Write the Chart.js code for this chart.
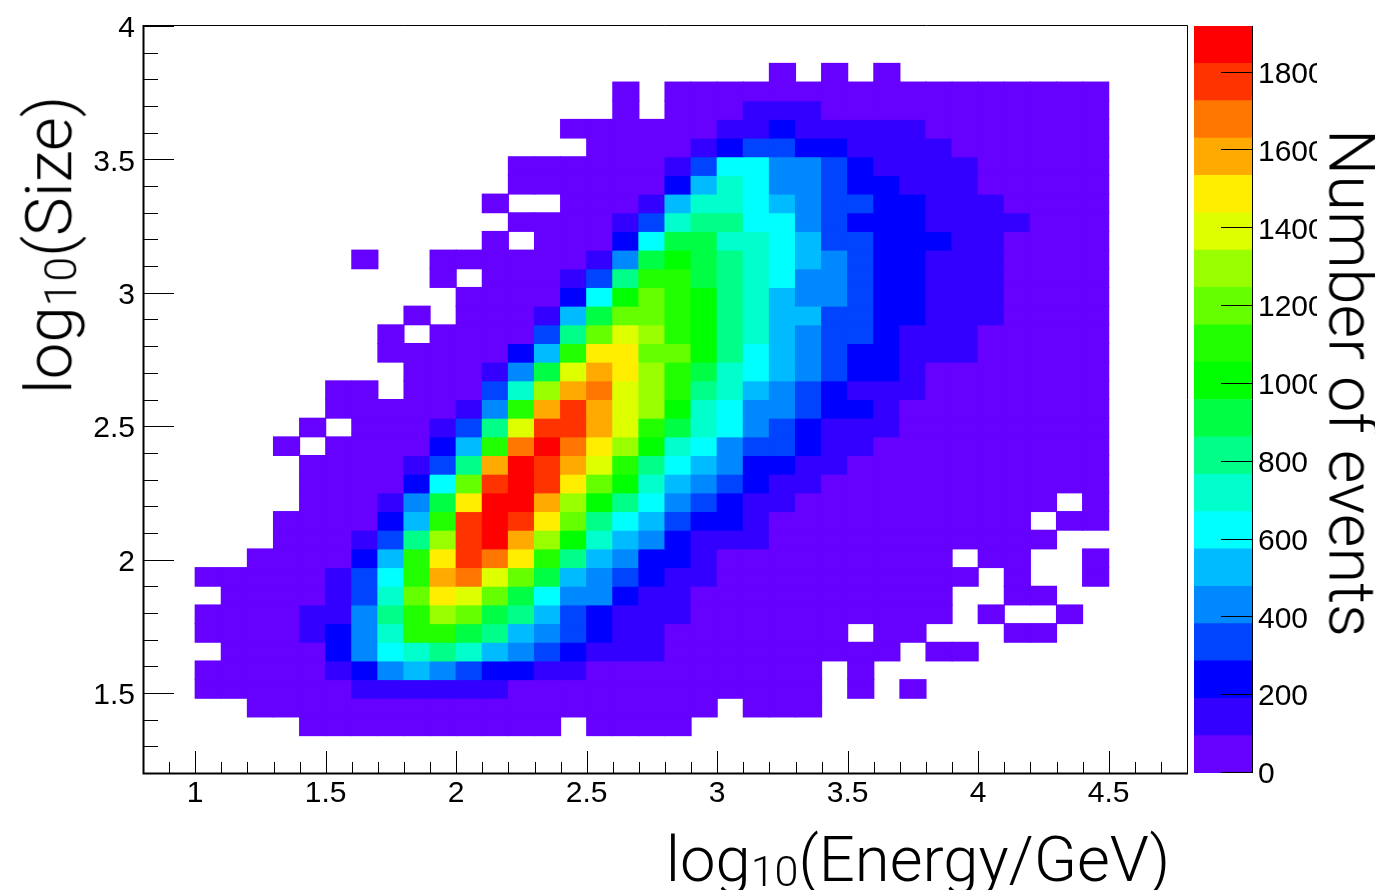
<!DOCTYPE html>
<html><head><meta charset="utf-8">
<style>
html,body{margin:0;padding:0;background:#fff;width:1375px;height:890px;overflow:hidden}
canvas{position:absolute;top:0}
.t{position:absolute;font-family:Roboto,"Liberation Sans",sans-serif;font-weight:300;color:#000;white-space:nowrap;transform-origin:center;line-height:1}
.t sub{font-size:68%;line-height:0;vertical-align:-0.12em}
</style></head><body>
<canvas id="main" width="1375" height="890" style="left:0px"></canvas>
<canvas id="bar" width="127" height="890" style="left:1190px"></canvas>
<div class="t" id="xt" style="left:918px;top:860px;font-size:63.4px;transform:translate(-50%,-50%)">log<sub>10</sub>(Energy/GeV)</div>
<div class="t" id="yt" style="left:49px;top:245px;font-size:65.5px;transform:translate(-50%,-50%) rotate(-90deg)">log<sub>10</sub>(Size)</div>
<div class="t" id="zt" style="left:1351px;top:383px;font-size:65px;transform:translate(-50%,-50%) rotate(90deg)">Number of events</div>
<script src="https://cdn.jsdelivr.net/npm/chart.js@4"></script>
<script>
const n = null;
const binWidth = 96;
const colorLevels = ['#6600ff','#3300ff','#0000ff','#0044ff','#0088ff','#00bbff','#00ffff','#00ffcc','#00ff88','#00ff44','#00ff00','#22ff00','#66ff00','#99ff00','#ddff00','#ffee00','#ffaa00','#ff7700','#ff3300','#ff0000'];
const energyBins = [1,1.1,1.2,1.3,1.4,1.5,1.6,1.7,1.8,1.9,2,2.1,2.2,2.3,2.4,2.5,2.6,2.7,2.8,2.9,3,3.1,3.2,3.3,3.4,3.5,3.6,3.7,3.8,3.9,4,4.1,4.2,4.3,4.4];
const sizeBinBase = 1.2, sizeBinWidth = 0.07;
const row37=[n,n,n,n,n,n,n,n,n,n,n,n,n,n,n,n,n,n,n,n,n,n,48,n,48,n,48];
const row36=[n,n,n,n,n,n,n,n,n,n,n,n,n,n,n,n,48,n,48,48,48,48,48,48,48,48,48,48,48,48,48,48,48,48,48];
const row35=[n,n,n,n,n,n,n,n,n,n,n,n,n,n,n,n,48,n,48,48,48,144,144,144,48,48,48,48,48,48,48,48,48,48,48];
const row34=[n,n,n,n,n,n,n,n,n,n,n,n,n,n,48,48,48,48,48,48,144,144,240,144,144,144,144,144,48,48,48,48,48,48,48];
const row33=[n,n,n,n,n,n,n,n,n,n,n,n,n,n,n,48,48,48,48,144,240,336,336,240,240,144,144,144,144,48,48,48,48,48,48];
const row32=[n,n,n,n,n,n,n,n,n,n,n,n,48,48,48,48,48,48,144,336,624,624,432,432,336,240,144,144,144,144,48,48,48,48,48];
const row31=[n,n,n,n,n,n,n,n,n,n,n,n,48,48,48,48,48,48,240,528,720,624,432,432,336,240,240,144,144,144,48,48,48,48,48];
const row30=[n,n,n,n,n,n,n,n,n,n,n,48,n,n,48,48,48,144,528,720,720,624,528,432,336,336,240,240,144,144,144,48,48,48,48];
const row29=[n,n,n,n,n,n,n,n,n,n,n,n,48,48,48,48,144,336,720,816,816,624,624,432,336,240,240,240,144,144,144,144,48,48,48];
const row28=[n,n,n,n,n,n,n,n,n,n,n,48,n,48,48,48,240,624,912,912,720,720,624,528,336,336,240,240,240,144,144,48,48,48,48];
const row27=[n,n,n,n,n,n,48,n,n,48,48,48,48,48,48,144,432,912,1008,912,816,720,624,528,432,336,240,240,144,144,144,48,48,48,48];
const row26=[n,n,n,n,n,n,n,n,n,48,n,48,48,48,144,336,816,1104,1104,912,816,720,624,432,432,336,240,240,144,144,144,48,48,48,48];
const row25=[n,n,n,n,n,n,n,n,n,n,48,48,48,48,240,624,1008,1200,1104,1008,816,720,528,432,432,336,240,240,144,144,144,48,48,48,48];
const row24=[n,n,n,n,n,n,n,n,48,n,48,48,48,144,528,912,1200,1200,1104,1008,816,720,528,528,336,336,240,240,144,144,144,48,48,48,48];
const row23=[n,n,n,n,n,n,n,48,n,48,48,48,48,336,816,1200,1392,1296,1104,1008,816,720,528,432,336,336,240,144,144,144,48,48,48,48,48];
const row22=[n,n,n,n,n,n,n,48,48,48,48,48,240,528,1104,1488,1488,1200,1200,1008,816,624,528,432,336,240,240,144,144,144,48,48,48,48,48];
const row21=[n,n,n,n,n,n,n,n,48,48,48,144,432,912,1392,1584,1488,1296,1104,912,720,624,528,432,336,240,240,144,48,48,48,48,48,48,48];
const row20=[n,n,n,n,n,48,48,n,48,48,48,336,720,1296,1584,1680,1392,1296,1104,816,720,528,432,336,240,144,144,144,48,48,48,48,48,48,48];
const row19=[n,n,n,n,n,48,48,48,48,48,144,432,1104,1584,1776,1584,1392,1296,1008,720,624,432,432,336,240,240,144,48,48,48,48,48,48,48,48];
const row18=[n,n,n,n,48,n,48,48,48,144,336,816,1392,1776,1776,1584,1392,1104,912,720,624,432,336,240,144,144,144,48,48,48,48,48,48,48,48];
const row17=[n,n,n,48,n,48,48,48,48,240,528,1104,1680,1872,1680,1488,1296,1008,720,624,432,336,336,240,144,144,48,48,48,48,48,48,48,48,48];
const row16=[n,n,n,n,48,48,48,48,144,336,816,1584,1872,1776,1584,1392,1104,816,624,528,432,240,240,144,144,48,48,48,48,48,48,48,48,48,48];
const row15=[n,n,n,n,48,48,48,48,240,624,1200,1776,1872,1776,1488,1200,1008,720,528,432,336,240,144,144,48,48,48,48,48,48,48,48,48,48,48];
const row14=[n,n,n,n,48,48,48,144,432,912,1488,1872,1872,1584,1296,1008,816,624,432,336,240,144,144,48,48,48,48,48,48,48,48,48,48,n,48];
const row13=[n,n,n,48,48,48,48,240,528,1104,1776,1872,1776,1488,1200,816,624,528,336,240,240,144,48,48,48,48,48,48,48,48,48,48,n,48,48];
const row12=[n,n,n,48,48,48,144,336,816,1296,1776,1872,1584,1296,1008,720,528,432,240,144,144,144,48,48,48,48,48,48,48,48,48,48,48];
const row11=[n,n,48,48,48,48,240,528,1104,1488,1776,1680,1488,1104,816,528,432,240,240,144,48,48,48,48,48,48,48,48,48,n,48,48,n,n,48];
const row10=[48,48,48,48,48,144,336,624,1104,1584,1680,1392,1200,912,528,432,336,240,144,144,48,48,48,48,48,48,48,48,48,48,n,48,n,n,48];
const row09=[n,48,48,48,48,144,336,720,1200,1488,1392,1200,912,624,432,432,240,144,144,48,48,48,48,48,48,48,48,48,48,n,n,48,48];
const row08=[48,48,48,48,144,144,432,816,1104,1296,1200,912,816,528,336,240,144,144,144,48,48,48,48,48,48,48,48,48,48,n,48,n,n,48];
const row07=[48,48,48,48,144,240,432,720,1104,1104,912,816,528,432,336,240,144,144,48,48,48,48,48,48,48,n,48,48,n,n,n,48,48];
const row06=[n,48,48,48,48,240,432,624,720,816,720,528,432,336,240,144,144,144,48,48,48,48,48,48,48,48,48,n,48,48];
const row05=[48,48,48,48,48,144,240,432,528,432,336,240,240,144,144,48,48,48,48,48,48,48,48,48,n,48];
const row04=[48,48,48,48,48,48,144,144,144,144,144,144,48,48,48,48,48,48,48,48,48,48,48,48,n,48,n,48];
const row03=[n,n,48,48,48,48,48,48,48,48,48,48,48,48,48,48,48,48,48,48,n,48,48,48];
const row02=[n,n,n,n,48,48,48,48,48,48,48,48,48,48,n,48,48,48,48];
const sizeRows=[[2,row02],[3,row03],[4,row04],[5,row05],[6,row06],[7,row07],[8,row08],[9,row09],[10,row10],[11,row11],[12,row12],[13,row13],[14,row14],[15,row15],[16,row16],[17,row17],[18,row18],[19,row19],[20,row20],[21,row21],[22,row22],[23,row23],[24,row24],[25,row25],[26,row26],[27,row27],[28,row28],[29,row29],[30,row30],[31,row31],[32,row32],[33,row33],[34,row34],[35,row35],[36,row36],[37,row37]];

const cells=[];
sizeRows.forEach(([j,row])=>row.forEach((v,i)=>{
  if(v==null)return;
  cells.push({x:energyBins[i]+0.05,y:[sizeBinBase+sizeBinWidth*j,sizeBinBase+sizeBinWidth*(j+1)],v});
}));
const colorOf=v=>colorLevels[Math.min(colorLevels.length-1,Math.floor(v/binWidth))];
const tenth=v=>Math.round(v*10)/10;
const isMajor=v=>Math.round(v*10)%5===0;
const tickFont={family:'"Liberation Sans",Arial,sans-serif',size:30};
const nudgeLabels=(scale,dy)=>scale.getLabelItems().forEach(it=>{it.options.translation[1]+=dy;});

const frame={id:'frame',beforeDraw(c){nudgeLabels(c.scales.y,3);},afterDatasetsDraw(c){
  const g=c.ctx,a=c.chartArea,sx=c.scales.x,sy=c.scales.y;
  g.save();g.strokeStyle='#000';
  g.lineWidth=1;
  g.beginPath();g.moveTo(a.left,a.top-0.5);g.lineTo(a.right+0.5,a.top-0.5);g.lineTo(a.right+0.5,a.bottom);g.stroke();
  sx.ticks.forEach((t,i)=>{const p=Math.round(sx.getPixelForTick(i))+0.5;if(t.value<0.85||t.value>4.75)return;
    g.beginPath();g.moveTo(p,a.bottom);g.lineTo(p,a.bottom-(isMajor(t.value)?22:11));g.stroke();});
  sy.ticks.forEach((t,i)=>{const p=Math.round(sy.getPixelForTick(i))+0.5;if(t.value<1.25)return;
    g.beginPath();g.moveTo(a.left,p);g.lineTo(a.left+(isMajor(t.value)?31:15),p);g.stroke();});
  g.lineWidth=2;
  g.beginPath();g.moveTo(a.left+0.5,a.top-1);g.lineTo(a.left+0.5,a.bottom+0.5);g.lineTo(a.right+1,a.bottom+0.5);g.stroke();
  g.restore();
}};

new Chart(document.getElementById('main'),{
  type:'bar',
  data:{datasets:[{data:cells,backgroundColor:cells.map(d=>colorOf(d.v)),barThickness:26.2,borderWidth:0,inflateAmount:0.5}]},
  options:{responsive:false,animation:false,
    layout:{padding:{left:0,top:26,right:188,bottom:0}},
    plugins:{legend:{display:false},tooltip:{enabled:false}},
    scales:{
      x:{type:'linear',min:0.8,max:4.8,offset:false,grid:{display:false,drawTicks:false,offset:false},border:{display:false},
        afterFit:s=>{s.height=117;},
        ticks:{stepSize:0.1,autoSkip:false,maxRotation:0,padding:3,color:'#000',font:tickFont,callback:v=>isMajor(v)&&tenth(v)>=1&&tenth(v)<=4.5?String(tenth(v)):''}},
      y:{type:'linear',min:1.2,max:4,grid:{display:false,drawTicks:false},border:{display:false},
        afterFit:s=>{s.width=143;},
        ticks:{stepSize:0.1,autoSkip:false,padding:8,color:'#000',font:tickFont,callback:v=>isMajor(v)?String(tenth(v)):''}}
    }},
  plugins:[frame]
});

const barFrame={id:'barFrame',beforeDraw(c){nudgeLabels(c.scales.y,2);},afterDatasetsDraw(c){
  const g=c.ctx,a=c.chartArea,sy=c.scales.y;
  g.save();g.strokeStyle='#000';g.lineWidth=1;
  g.beginPath();g.moveTo(a.right+0.5,a.top);g.lineTo(a.right+0.5,a.bottom);g.stroke();
  sy.ticks.forEach((t,i)=>{const p=Math.round(sy.getPixelForTick(i))-0.5;
    g.beginPath();g.moveTo(a.right-31,p);g.lineTo(a.right+1,p);g.stroke();});
  g.restore();
}};
new Chart(document.getElementById('bar'),{
  type:'bar',
  data:{labels:[''],datasets:colorLevels.map(col=>({data:[binWidth],backgroundColor:col,borderWidth:0,barPercentage:1,categoryPercentage:1}))},
  options:{responsive:false,animation:false,
    layout:{padding:{left:4,top:26,right:0,bottom:117}},
    plugins:{legend:{display:false},tooltip:{enabled:false}},
    scales:{
      x:{stacked:true,display:false},
      y:{stacked:true,position:'right',min:0,max:binWidth*colorLevels.length,grid:{display:false,drawTicks:false},border:{display:false},
        afterFit:s=>{s.width=65;},
        ticks:{stepSize:200,includeBounds:false,padding:6,color:'#000',font:tickFont,callback:v=>String(v)}}
    }},
  plugins:[barFrame]
});
</script>
</body></html>
